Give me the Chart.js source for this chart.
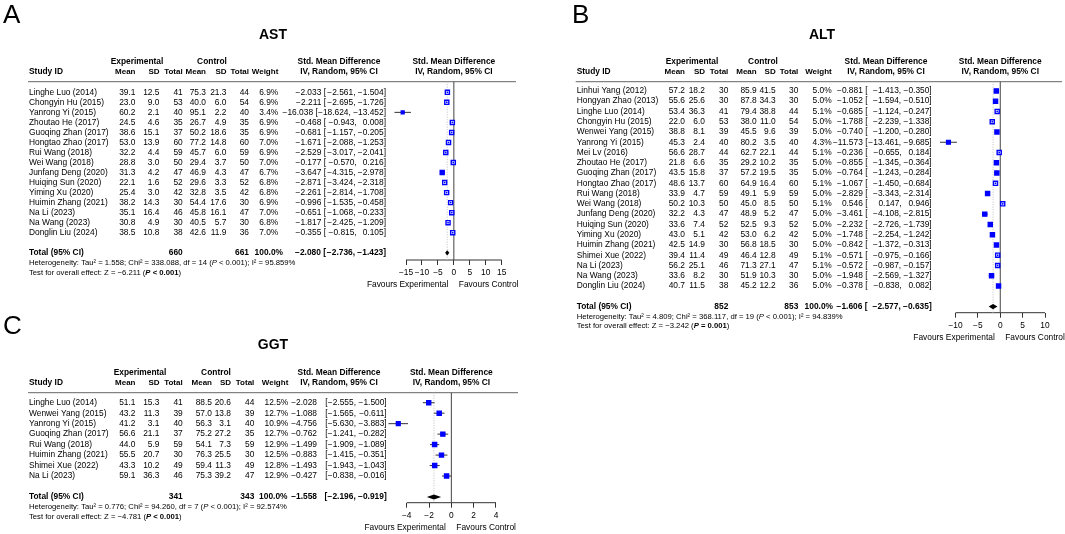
<!DOCTYPE html>
<html>
<head>
<meta charset="utf-8">
<script src="https://cdn.jsdelivr.net/npm/chart.js@4.4.0/dist/chart.umd.min.js"></script>
<style>
html, body { margin: 0; padding: 0; background: #fff; }
#wrap { position: relative; width: 1065px; height: 534px; overflow: hidden; }
#wrap canvas { position: absolute; left: 0; top: 0; }
</style>
</head>
<body>
<div id="wrap">
  <canvas id="astChart" width="1065" height="534"></canvas>
  <canvas id="altChart" width="1065" height="534"></canvas>
  <canvas id="ggtChart" width="1065" height="534"></canvas>
</div>
<script>
// ---- AST ----
const astStudies = ['Linghe Luo (2014)', 'Chongyin Hu (2015)', 'Yanrong Yi (2015)', 'Zhoutao He (2017)', 'Guoqing Zhan (2017)', 'Hongtao Zhao (2017)', 'Rui Wang (2018)', 'Wei Wang (2018)', 'Junfang Deng (2020)', 'Huiqing Sun (2020)', 'Yiming Xu (2020)', 'Huimin Zhang (2021)', 'Na Li (2023)', 'Na Wang (2023)', 'Donglin Liu (2024)'];
const astExpMean = [39.1, 23.0, 60.2, 24.5, 38.6, 53.0, 32.2, 28.8, 31.3, 22.1, 25.4, 38.2, 35.1, 30.8, 38.5];
const astExpSd = [12.5, 9.0, 2.1, 4.6, 15.1, 13.9, 4.4, 3.0, 4.2, 1.6, 3.0, 14.3, 16.4, 4.9, 10.8];
const astExpN = [41, 53, 40, 35, 37, 60, 59, 50, 47, 52, 42, 30, 46, 30, 38];
const astCtlMean = [75.3, 40.0, 95.1, 26.7, 50.2, 77.2, 45.7, 29.4, 46.9, 29.6, 32.8, 54.4, 45.8, 40.5, 42.6];
const astCtlSd = [21.3, 6.0, 2.2, 4.9, 18.6, 14.8, 6.0, 3.7, 4.3, 3.3, 3.5, 17.6, 16.1, 5.7, 11.9];
const astCtlN = [44, 54, 40, 35, 35, 60, 59, 50, 47, 52, 42, 30, 47, 30, 36];
const astWeight = [6.9, 6.9, 3.4, 6.9, 6.9, 7.0, 6.9, 7.0, 6.7, 6.8, 6.8, 6.9, 7.0, 6.8, 7.0];
const astSmd = [-2.033, -2.211, -16.038, -0.468, -0.681, -1.671, -2.529, -0.177, -3.647, -2.871, -2.261, -0.996, -0.651, -1.817, -0.355];
const astLower = [-2.561, -2.695, -18.624, -0.943, -1.157, -2.088, -3.017, -0.570, -4.315, -3.424, -2.814, -1.535, -1.068, -2.425, -0.815];
const astUpper = [-1.504, -1.726, -13.452, 0.008, -0.205, -1.253, -2.041, 0.216, -2.978, -2.318, -1.708, -0.458, -0.233, -1.209, 0.105];
const astTotalN = [660, 661];
const astPooled = [-2.080, -2.736, -1.423];
const astHet = [1.558, 338.088, 14, 95.859]; // tau2, chi2, df, I2
const astTest = [-6.211, '< 0.001'];
const astTicks = [-15, -10, -5, 0, 5, 10, 15];

// ---- ALT ----
const altStudies = ['Linhui Yang (2012)', 'Hongyan Zhao (2013)', 'Linghe Luo (2014)', 'Chongyin Hu (2015)', 'Wenwei Yang (2015)', 'Yanrong Yi (2015)', 'Mei Lv (2016)', 'Zhoutao He (2017)', 'Guoqing Zhan (2017)', 'Hongtao Zhao (2017)', 'Rui Wang (2018)', 'Wei Wang (2018)', 'Junfang Deng (2020)', 'Huiqing Sun (2020)', 'Yiming Xu (2020)', 'Huimin Zhang (2021)', 'Shimei Xue (2022)', 'Na Li (2023)', 'Na Wang (2023)', 'Donglin Liu (2024)'];
const altExpMean = [57.2, 55.6, 53.4, 22.0, 38.8, 45.3, 56.6, 21.8, 43.5, 48.6, 33.9, 50.2, 32.2, 33.6, 43.0, 42.5, 39.4, 56.2, 33.6, 40.7];
const altExpSd = [18.2, 25.6, 36.3, 6.0, 8.1, 2.4, 28.7, 6.6, 15.8, 13.7, 4.7, 10.3, 4.3, 7.4, 5.1, 14.9, 11.4, 25.1, 8.2, 11.5];
const altExpN = [30, 30, 41, 53, 39, 40, 44, 35, 37, 60, 59, 50, 47, 52, 42, 30, 49, 46, 30, 38];
const altCtlMean = [85.9, 87.8, 79.4, 38.0, 45.5, 80.2, 62.7, 29.2, 57.2, 64.9, 49.1, 45.0, 48.9, 52.5, 53.0, 56.8, 46.4, 71.3, 51.9, 45.2];
const altCtlSd = [41.5, 34.3, 38.8, 11.0, 9.6, 3.5, 22.1, 10.2, 19.5, 16.4, 5.9, 8.5, 5.2, 9.3, 6.2, 18.5, 12.8, 27.1, 10.3, 12.2];
const altCtlN = [30, 30, 44, 54, 39, 40, 44, 35, 35, 60, 59, 50, 47, 52, 42, 30, 49, 47, 30, 36];
const altWeight = [5.0, 5.0, 5.1, 5.0, 5.0, 4.3, 5.1, 5.0, 5.0, 5.1, 5.0, 5.1, 5.0, 5.0, 5.0, 5.0, 5.1, 5.1, 5.0, 5.0];
const altSmd = [-0.881, -1.052, -0.685, -1.788, -0.740, -11.573, -0.236, -0.855, -0.764, -1.067, -2.829, 0.546, -3.461, -2.232, -1.748, -0.842, -0.571, -0.572, -1.948, -0.378];
const altLower = [-1.413, -1.594, -1.124, -2.239, -1.200, -13.461, -0.655, -1.345, -1.243, -1.450, -3.343, 0.147, -4.108, -2.726, -2.254, -1.372, -0.975, -0.987, -2.569, -0.838];
const altUpper = [-0.350, -0.510, -0.247, -1.338, -0.280, -9.685, 0.184, -0.364, -0.284, -0.684, -2.314, 0.946, -2.815, -1.739, -1.242, -0.313, -0.166, -0.157, -1.327, 0.082];
const altTotalN = [852, 853];
const altPooled = [-1.606, -2.577, -0.635];
const altHet = [4.809, 368.117, 19, 94.839];
const altTest = [-3.242, '= 0.001'];
const altTicks = [-10, -5, 0, 5, 10];

// ---- GGT ----
const ggtStudies = ['Linghe Luo (2014)', 'Wenwei Yang (2015)', 'Yanrong Yi (2015)', 'Guoqing Zhan (2017)', 'Rui Wang (2018)', 'Huimin Zhang (2021)', 'Shimei Xue (2022)', 'Na Li (2023)'];
const ggtExpMean = [51.1, 43.2, 41.2, 56.6, 44.0, 55.5, 43.3, 59.1];
const ggtExpSd = [15.3, 11.3, 3.1, 21.1, 5.9, 20.7, 10.2, 36.3];
const ggtExpN = [41, 39, 40, 37, 59, 30, 49, 46];
const ggtCtlMean = [88.5, 57.0, 56.3, 75.2, 54.1, 76.3, 59.4, 75.3];
const ggtCtlSd = [20.6, 13.8, 3.1, 27.2, 7.3, 25.5, 11.3, 39.2];
const ggtCtlN = [44, 39, 40, 35, 59, 30, 49, 47];
const ggtWeight = [12.5, 12.7, 10.9, 12.7, 12.9, 12.5, 12.8, 12.9];
const ggtSmd = [-2.028, -1.088, -4.756, -0.762, -1.499, -0.883, -1.493, -0.427];
const ggtLower = [-2.555, -1.565, -5.630, -1.241, -1.909, -1.415, -1.943, -0.838];
const ggtUpper = [-1.500, -0.611, -3.883, -0.282, -1.089, -0.351, -1.043, -0.016];
const ggtTotalN = [341, 343];
const ggtPooled = [-1.558, -2.196, -0.919];
const ggtHet = [0.776, 94.260, 7, 92.574];
const ggtTest = [-4.781, '< 0.001'];
const ggtTicks = [-4, -2, 0, 2, 4];

const FONT = '"Liberation Sans", Arial, Helvetica, sans-serif';
const FS = 8.4;
const BLUE = '#0000ff';
Chart.defaults.font.family = FONT;
Chart.defaults.color = '#000';

const minus = s => String(s).replace(/-/g, '\u2212');
const f1 = v => v.toFixed(1);
const f3 = v => minus(v.toFixed(3));

// page layout of each panel (plotLeft/plotRight = first/last tick)
const astPanel = {
    letter: 'A', letterX: 3, letterY: 16, title: 'AST', titleX: 273, titleY: 35,
    headerY: 81.7, row1Y: 92.3, step: 10.03, axisY: 260, plotLeft: 406, plotRight: 501.7, lineEnd: 516,
    cols: { name: 29, expMean: 135.5, expSd: 159.5, expN: 182.7, ctlMean: 206, ctlSd: 226.5, ctlN: 249, weight: 278.3, totalWeight: 283, est: 321.7, bracket: 326, low: 356.7, up: 386 },
    expHead: 137, ctlHead: 212, smdHead: 339,
    studies: astStudies, expMean: astExpMean, expSd: astExpSd, expN: astExpN, ctlMean: astCtlMean, ctlSd: astCtlSd, ctlN: astCtlN,
    weight: astWeight, smd: astSmd, lower: astLower, upper: astUpper, totalN: astTotalN, pooled: astPooled, het: astHet, test: astTest, ticks: astTicks
};
const altPanel = {
    letter: 'B', letterX: 572, letterY: 16, title: 'ALT', titleX: 822, titleY: 35,
    headerY: 81.7, row1Y: 90.9, step: 10.27, axisY: 312.7, plotLeft: 955.5, plotRight: 1045, lineEnd: 1062,
    cols: { name: 576.7, expMean: 685, expSd: 705, expN: 728.3, ctlMean: 756.7, ctlSd: 775.7, ctlN: 798.3, weight: 831.7, totalWeight: 833, est: 863.3, bracket: 867.5, low: 901.7, up: 931.7 },
    expHead: 692, ctlHead: 763, smdHead: 886,
    studies: altStudies, expMean: altExpMean, expSd: altExpSd, expN: altExpN, ctlMean: altCtlMean, ctlSd: altCtlSd, ctlN: altCtlN,
    weight: altWeight, smd: altSmd, lower: altLower, upper: altUpper, totalN: altTotalN, pooled: altPooled, het: altHet, test: altTest, ticks: altTicks
};
const ggtPanel = {
    letter: 'C', letterX: 3, letterY: 327, title: 'GGT', titleX: 273, titleY: 345,
    headerY: 392.7, row1Y: 402.7, step: 10.48, axisY: 502.7, plotLeft: 406.7, plotRight: 496, lineEnd: 518,
    cols: { name: 29, expMean: 135.5, expSd: 159.5, expN: 182.7, ctlMean: 212, ctlSd: 231, ctlN: 254.3, weight: 288.3, totalWeight: 287.5, est: 317, bracket: Infinity, low: 356, up: 386.7 },
    expHead: 140, ctlHead: 216, smdHead: 339,
    studies: ggtStudies, expMean: ggtExpMean, expSd: ggtExpSd, expN: ggtExpN, ctlMean: ggtCtlMean, ctlSd: ggtCtlSd, ctlN: ggtCtlN,
    weight: ggtWeight, smd: ggtSmd, lower: ggtLower, upper: ggtUpper, totalN: ggtTotalN, pooled: ggtPooled, het: ggtHet, test: ggtTest, ticks: ggtTicks
};

// inner side of a study square, px
function squareSide(p, i) {
    return 4.1 * Math.sqrt(p.weight[i] / Math.max(...p.weight));
}
// CI lies inside the square -> square shows hollow
function ciInside(chart, p, i) {
    const xs = chart.scales.x;
    return xs.getPixelForValue(p.upper[i]) - xs.getPixelForValue(p.lower[i]) < squareSide(p, i);
}

function drawRuns(ctx, x, y, runs) {
    ctx.textAlign = 'left';
    runs.forEach(r => {
        ctx.font = r[1];
        ctx.fillText(r[0], x, y);
        x += ctx.measureText(r[0]).width;
    });
}

// "est [lower, upper]" right aligned piece by piece, never overlapping
function ciCells(ctx, c, y, est, lo, hi) {
    const gap = ctx.measureText(' ').width;
    ctx.textAlign = 'right';
    const upStr = f3(hi) + ']';
    ctx.fillText(upStr, c.up, y);
    const loStr = f3(lo) + ',';
    const loRight = Math.min(c.low, c.up - ctx.measureText(upStr).width - gap);
    ctx.fillText(loStr, loRight, y);
    const loLeft = loRight - ctx.measureText(loStr).width;
    const brRight = Math.min(c.bracket, loLeft - 0.3);
    ctx.fillText('[', brRight, y);
    const estRight = Math.min(c.est, brRight - ctx.measureText('[').width - gap);
    ctx.fillText(f3(est), estRight, y);
}

function forestPlugin(p) {
    const t0 = p.ticks[0], t1 = p.ticks[p.ticks.length - 1];
    return {
        id: 'forest' + p.letter,
        beforeDatasetsDraw(chart) {
            const ctx = chart.ctx, xs = chart.scales.x, ys = chart.scales.y;
            const top = chart.chartArea.top, bottom = chart.chartArea.bottom;
            ctx.save();
            // header rule
            ctx.strokeStyle = '#666';
            ctx.lineWidth = 1;
            ctx.beginPath();
            ctx.moveTo(p.cols.name - 1, top);
            ctx.lineTo(p.lineEnd, top);
            ctx.stroke();
            // axis line, only over the labelled range
            ctx.strokeStyle = '#333';
            ctx.beginPath();
            ctx.moveTo(xs.getPixelForValue(t0), bottom);
            ctx.lineTo(xs.getPixelForValue(t1), bottom);
            ctx.stroke();
            // pooled estimate, dotted
            ctx.strokeStyle = '#bdbdbd';
            ctx.setLineDash([1, 1.5]);
            const px = xs.getPixelForValue(p.pooled[0]);
            ctx.beginPath();
            ctx.moveTo(px, top);
            ctx.lineTo(px, bottom);
            ctx.stroke();
            ctx.setLineDash([]);
            // line of no effect
            ctx.strokeStyle = '#444';
            const zx = xs.getPixelForValue(0);
            ctx.beginPath();
            ctx.moveTo(zx, top);
            ctx.lineTo(zx, bottom);
            ctx.stroke();
            // confidence intervals
            ctx.strokeStyle = '#333';
            p.smd.forEach((v, i) => {
                const y = ys.getPixelForValue(i + 1);
                ctx.beginPath();
                ctx.moveTo(xs.getPixelForValue(p.lower[i]), y);
                ctx.lineTo(xs.getPixelForValue(p.upper[i]), y);
                ctx.stroke();
            });
            // pooled diamond
            const ty = ys.getPixelForValue(p.studies.length + 2);
            ctx.fillStyle = '#000';
            ctx.beginPath();
            ctx.moveTo(xs.getPixelForValue(p.pooled[1]), ty);
            ctx.lineTo(px, ty - 2.6);
            ctx.lineTo(xs.getPixelForValue(p.pooled[2]), ty);
            ctx.lineTo(px, ty + 2.6);
            ctx.closePath();
            ctx.fill();
            ctx.restore();
        },
        afterDatasetsDraw(chart) {
            // centre dot of the hollow squares
            const ctx = chart.ctx, xs = chart.scales.x, ys = chart.scales.y;
            ctx.save();
            ctx.fillStyle = BLUE;
            p.smd.forEach((v, i) => {
                if (!ciInside(chart, p, i)) return;
                ctx.fillRect(xs.getPixelForValue(v) - 0.8, ys.getPixelForValue(i + 1) - 0.8, 1.6, 1.6);
            });
            ctx.restore();
        },
        afterDraw(chart) {
            const ctx = chart.ctx, ys = chart.scales.y, xs = chart.scales.x;
            const c = p.cols;
            const R = FS + 'px ' + FONT, B = 'bold ' + FS + 'px ' + FONT, BS = 'bold 8px ' + FONT;
            ctx.save();
            ctx.fillStyle = '#000';
            ctx.textBaseline = 'middle';

            ctx.font = '26px ' + FONT;
            ctx.textAlign = 'left';
            ctx.fillText(p.letter, p.letterX, p.letterY);
            ctx.font = 'bold 14px ' + FONT;
            ctx.textAlign = 'center';
            ctx.fillText(p.title, p.titleX, p.titleY);

            // column headers
            const plotMid = (xs.getPixelForValue(t0) + xs.getPixelForValue(t1)) / 2;
            const h1 = p.headerY - 20.5, h2 = p.headerY - 10.2;
            ctx.font = B;
            ctx.textAlign = 'center';
            ctx.fillText('Experimental', p.expHead, h1);
            ctx.fillText('Control', p.ctlHead, h1);
            ctx.fillText('Std. Mean Difference', p.smdHead, h1);
            ctx.fillText('Std. Mean Difference', plotMid, h1);
            ctx.fillText('IV, Random, 95% CI', p.smdHead, h2);
            ctx.fillText('IV, Random, 95% CI', plotMid, h2);
            ctx.textAlign = 'left';
            ctx.fillText('Study ID', c.name, h2);
            ctx.font = BS;
            ctx.textAlign = 'right';
            [['Mean', c.expMean], ['SD', c.expSd], ['Total', c.expN], ['Mean', c.ctlMean], ['SD', c.ctlSd], ['Total', c.ctlN], ['Weight', c.weight]]
                .forEach(h => ctx.fillText(h[0], h[1], h2));

            // study rows
            ctx.font = R;
            p.studies.forEach((s, i) => {
                const y = ys.getPixelForValue(i + 1);
                ctx.textAlign = 'left';
                ctx.fillText(s, c.name, y);
                ctx.textAlign = 'right';
                ctx.fillText(f1(p.expMean[i]), c.expMean, y);
                ctx.fillText(f1(p.expSd[i]), c.expSd, y);
                ctx.fillText(String(p.expN[i]), c.expN, y);
                ctx.fillText(f1(p.ctlMean[i]), c.ctlMean, y);
                ctx.fillText(f1(p.ctlSd[i]), c.ctlSd, y);
                ctx.fillText(String(p.ctlN[i]), c.ctlN, y);
                ctx.fillText(f1(p.weight[i]) + '%', c.weight, y);
                ciCells(ctx, c, y, p.smd[i], p.lower[i], p.upper[i]);
            });

            // pooled row
            const ty = ys.getPixelForValue(p.studies.length + 2);
            ctx.font = B;
            ctx.textAlign = 'left';
            ctx.fillText('Total (95% CI)', c.name, ty);
            ctx.textAlign = 'right';
            ctx.fillText(String(p.totalN[0]), c.expN, ty);
            ctx.fillText(String(p.totalN[1]), c.ctlN, ty);
            ctx.fillText('100.0%', c.totalWeight, ty);
            ciCells(ctx, c, ty, p.pooled[0], p.pooled[1], p.pooled[2]);

            // heterogeneity and overall test
            const S = 7.7, sR = S + 'px ' + FONT, sI = 'italic ' + S + 'px ' + FONT, sBI = 'italic bold ' + S + 'px ' + FONT, sB = 'bold ' + S + 'px ' + FONT;
            drawRuns(ctx, c.name, ty + 10.3, [
                ['Heterogeneity: Tau\u00b2 = ' + p.het[0].toFixed(3) + '; Chi\u00b2 = ' + p.het[1].toFixed(3) + ', df = ' + p.het[2] + ' (', sR],
                ['P', sI], [' < 0.001); I\u00b2 = ' + p.het[3].toFixed(3) + '%', sR]
            ]);
            drawRuns(ctx, c.name, ty + 19.7, [
                ['Test for overall effect: Z = ' + f3(p.test[0]) + ' (', sR],
                ['P', sBI], [' ' + p.test[1], sB], [')', sR]
            ]);

            // favours labels
            const zx = xs.getPixelForValue(0);
            ctx.font = R;
            ctx.textAlign = 'right';
            ctx.fillText('Favours Experimental', zx - 5.5, p.axisY + 24.5);
            ctx.textAlign = 'left';
            ctx.fillText('Favours Control', zx + 5, p.axisY + 24.5);
            ctx.restore();
        }
    };
}

function makeForest(id, p) {
    const t0 = p.ticks[0], t1 = p.ticks[p.ticks.length - 1];
    // the scale reaches far enough left to hold every interval; ticks stay on the labelled range
    const xLo = Math.min(t0, Math.floor(Math.min(...p.lower)) - 0.5);
    const ppu = (p.plotRight - p.plotLeft) / (t1 - t0);
    const padLeft = p.plotLeft - (t0 - xLo) * ppu;
    const yMin = 1 - (p.row1Y - p.headerY) / p.step;
    const yMax = 1 + (p.axisY - p.row1Y) / p.step;
    const AXIS_H = 30;
    return new Chart(document.getElementById(id), {
        type: 'scatter',
        data: {
            datasets: [{
                data: p.smd.map((v, i) => ({ x: v, y: i + 1 })),
                pointStyle: 'rect',
                pointRadius: ctx => squareSide(p, ctx.dataIndex) / Math.SQRT2,
                pointHoverRadius: ctx => squareSide(p, ctx.dataIndex) / Math.SQRT2,
                backgroundColor: ctx => ciInside(ctx.chart, p, ctx.dataIndex) ? '#ffffff' : BLUE,
                borderColor: BLUE,
                borderWidth: 1.4
            }]
        },
        options: {
            responsive: false,
            animation: false,
            events: [],
            layout: {
                padding: { left: padLeft, right: 1065 - p.plotRight, top: p.headerY, bottom: 534 - p.axisY - AXIS_H }
            },
            plugins: {
                legend: { display: false },
                tooltip: { enabled: false }
            },
            scales: {
                x: {
                    type: 'linear',
                    min: xLo,
                    max: t1,
                    afterFit: s => { s.height = AXIS_H; },
                    afterBuildTicks: s => { s.ticks = p.ticks.map(v => ({ value: v })); },
                    ticks: {
                        autoSkip: false,
                        maxRotation: 0,
                        padding: 3,
                        color: '#000',
                        font: { size: FS },
                        callback: v => minus(v)
                    },
                    grid: { drawOnChartArea: false, drawTicks: true, tickLength: 5, tickColor: '#333' },
                    border: { display: false }
                },
                y: {
                    type: 'linear',
                    display: false,
                    reverse: true,
                    min: yMin,
                    max: yMax
                }
            }
        },
        plugins: [forestPlugin(p)]
    });
}

makeForest('astChart', astPanel);
makeForest('altChart', altPanel);
makeForest('ggtChart', ggtPanel);
</script>
</body>
</html>
